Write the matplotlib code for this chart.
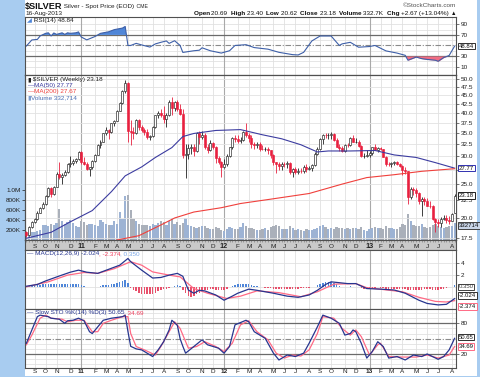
import numpy as np
import pandas as pd
import matplotlib
matplotlib.use("Agg")
import matplotlib.pyplot as plt
from matplotlib.patches import Rectangle
from matplotlib.ticker import FixedLocator, NullLocator

FONT = ['Liberation Sans Narrow', 'Liberation Sans', 'DejaVu Sans']
plt.rcParams['font.family'] = FONT

# ---------------- data ----------------
start_monday = '2010-08-16'
n_weeks = 157

opens = [18.2, 17.9, 18.9, 19.5, 19.9, 20.7, 21.4, 22.0, 23.1, 24.4,
         23.5, 24.6, 26.8, 26.2, 26.6, 27.0, 28.5, 28.7, 29.2, 29.5,
         30.9, 28.9, 28.6, 27.6, 27.9, 29.1, 30.3, 32.3, 33.0, 34.9,
         35.6, 35.3, 37.3, 37.9, 40.6, 42.7, 46.1, 48.6, 35.5, 35.2,
         35.0, 38.1, 36.4, 35.8, 35.3, 34.0, 34.3, 36.5, 39.3, 40.0,
         39.3, 38.3, 39.4, 42.9, 41.4, 43.0, 41.0, 39.8, 30.2, 30.5,
         31.8, 32.0, 31.0, 34.9, 34.0, 34.5, 31.9, 31.3, 32.8, 32.0,
         29.6, 29.0, 27.9, 28.6, 30.0, 31.9, 33.8, 33.6, 33.3, 33.5,
         35.3, 34.6, 33.9, 32.5, 32.3, 32.5, 31.6, 31.5, 31.6, 31.2,
         30.2, 28.9, 28.5, 28.2, 28.6, 28.5, 28.7, 27.0, 27.6, 27.0,
         27.3, 27.2, 28.0, 27.6, 27.8, 28.3, 30.5, 31.5, 33.6, 34.6,
         34.5, 34.6, 34.8, 33.5, 32.0, 31.7, 31.0, 32.4, 32.3, 33.9,
         33.0, 33.1, 32.2, 30.0, 30.1, 30.3, 30.6, 31.9, 31.3, 31.8,
         31.5, 29.9, 28.6, 28.5, 28.8, 28.9, 28.6, 28.2, 27.4, 27.2,
         23.0, 24.2, 24.0, 23.6, 22.3, 22.6, 22.3, 21.7, 21.6, 19.9,
         19.5, 19.4, 19.9, 20.0, 19.7, 19.6, 20.69]
highs = [18.4, 19.0, 19.6, 20.0, 20.9, 21.5, 22.2, 23.3, 24.6, 24.5,
         24.7, 27.0, 28.9, 26.9, 27.5, 28.8, 30.0, 29.5, 29.6, 31.0,
         31.0, 29.8, 28.9, 28.0, 29.3, 30.5, 32.5, 33.5, 35.0, 36.5,
         36.0, 37.5, 38.2, 40.8, 43.0, 46.5, 49.8, 49.0, 38.2, 36.5,
         38.5, 38.5, 37.0, 36.2, 36.0, 34.6, 36.6, 39.5, 40.5, 41.0,
         41.9, 40.0, 43.5, 44.3, 43.2, 43.5, 42.5, 41.0, 32.5, 32.5,
         32.5, 32.6, 35.2, 35.5, 35.5, 35.0, 32.5, 33.5, 33.0, 32.2,
         30.0, 29.2, 29.5, 30.5, 32.0, 34.0, 34.5, 34.5, 34.0, 35.5,
         37.5, 35.0, 34.6, 33.0, 33.0, 33.0, 32.4, 32.0, 31.9, 31.3,
         30.4, 29.0, 28.9, 28.9, 29.0, 29.2, 28.9, 27.8, 28.0, 27.8,
         27.8, 28.4, 28.6, 28.2, 28.5, 30.8, 31.9, 33.9, 34.8, 35.0,
         34.9, 35.3, 35.0, 33.8, 32.5, 32.2, 32.5, 32.8, 34.0, 34.5,
         33.8, 33.5, 32.4, 30.6, 31.2, 31.0, 32.0, 32.5, 32.0, 32.0,
         31.6, 30.0, 29.0, 29.0, 29.2, 29.1, 28.8, 28.3, 28.0, 27.3,
         24.5, 24.6, 24.3, 23.8, 23.0, 22.9, 22.8, 22.3, 21.8, 20.0,
         19.9, 20.1, 20.4, 20.4, 20.3, 20.7, 23.40]
lows = [17.6, 17.8, 18.7, 19.3, 19.8, 20.6, 21.2, 21.8, 23.0, 22.9,
        23.3, 24.5, 25.9, 25.1, 26.3, 26.9, 28.0, 28.3, 28.8, 29.3,
        28.5, 28.4, 27.4, 26.4, 27.6, 28.9, 30.2, 31.8, 33.0, 34.5,
        33.6, 35.0, 36.6, 37.8, 40.5, 42.5, 45.5, 33.0, 32.3, 33.7,
        34.8, 35.6, 35.3, 34.6, 33.6, 33.4, 34.0, 36.3, 38.6, 38.8,
        37.5, 36.5, 39.2, 39.5, 40.5, 40.5, 39.5, 29.6, 26.1, 29.5,
        30.5, 30.0, 30.8, 32.5, 33.7, 31.5, 30.7, 31.0, 31.6, 28.8,
        28.6, 26.2, 27.8, 28.2, 29.8, 31.5, 33.0, 32.8, 32.8, 33.2,
        34.0, 33.0, 31.8, 31.5, 31.8, 31.0, 31.2, 31.0, 30.5, 29.6,
        28.4, 26.9, 27.5, 27.4, 27.9, 27.8, 26.7, 26.2, 26.8, 26.8,
        26.9, 26.9, 27.0, 27.4, 27.3, 28.2, 30.2, 31.2, 32.6, 33.9,
        33.7, 33.6, 33.2, 31.9, 31.1, 30.8, 30.9, 31.9, 32.2, 32.9,
        32.8, 31.9, 29.8, 29.7, 29.8, 29.9, 30.3, 31.2, 30.9, 31.2,
        29.8, 28.2, 28.1, 28.0, 28.4, 28.4, 27.9, 26.6, 26.8, 22.0,
        22.6, 23.3, 23.0, 22.0, 20.3, 21.8, 21.6, 21.3, 19.7, 18.2,
        18.9, 18.9, 19.7, 19.3, 19.2, 19.6, 20.62]
closes = [17.9, 18.9, 19.5, 19.9, 20.7, 21.4, 22.0, 23.1, 24.4, 23.5,
          24.6, 26.8, 26.2, 26.6, 27.0, 28.5, 28.7, 29.2, 29.5, 30.9,
          28.9, 28.6, 27.6, 27.9, 29.1, 30.3, 32.3, 33.0, 34.9, 35.6,
          35.3, 37.3, 37.9, 40.6, 42.7, 46.1, 48.6, 35.5, 35.2, 35.0,
          38.1, 36.4, 35.8, 35.3, 34.0, 34.3, 36.5, 39.3, 40.0, 39.3,
          38.3, 39.4, 42.9, 41.4, 43.0, 41.0, 39.8, 30.2, 30.5, 31.8,
          32.0, 31.0, 34.9, 34.0, 34.5, 31.9, 31.3, 32.8, 32.0, 29.6,
          29.0, 27.9, 28.6, 30.0, 31.9, 33.8, 33.6, 33.3, 33.5, 35.3,
          34.6, 33.9, 32.5, 32.3, 32.5, 31.6, 31.5, 31.6, 31.2, 30.2,
          28.9, 28.5, 28.2, 28.6, 28.5, 28.7, 27.0, 27.6, 27.0, 27.3,
          27.2, 28.0, 27.6, 27.8, 28.3, 30.5, 31.5, 33.6, 34.6, 34.5,
          34.6, 34.8, 33.5, 32.0, 31.7, 31.0, 32.4, 32.3, 33.9, 33.0,
          33.1, 32.2, 30.0, 30.1, 30.3, 30.6, 31.9, 31.3, 31.8, 31.5,
          29.9, 28.6, 28.5, 28.8, 28.9, 28.6, 28.2, 27.4, 27.2, 23.0,
          24.2, 24.0, 23.6, 22.3, 22.6, 22.3, 21.7, 21.6, 19.9, 19.5,
          19.4, 19.9, 20.0, 19.7, 19.6, 20.5, 23.18]
volume_k = [130, 150, 170, 160, 190, 200, 300, 310, 290, 330,
            300, 350, 630, 380, 330, 360, 400, 340, 280, 260,
            380, 360, 300, 320, 330, 310, 290, 400, 360, 330,
            300, 310, 380, 330, 570, 430, 880, 900, 600, 420,
            380, 330, 300, 310, 300, 280, 330, 300, 350, 380,
            360, 300, 380, 440, 330, 360, 300, 340, 450, 300,
            280, 260, 250, 270, 280, 290, 240, 220, 230, 270,
            240, 200, 180, 220, 260, 250, 230, 220, 260, 350,
            280, 250, 240, 220, 210, 200, 230, 250, 200, 260,
            290, 300, 280, 220, 230, 230, 290, 240, 200, 220,
            210, 190, 220, 200, 200, 230, 250, 280, 300, 260,
            230, 240, 230, 260, 250, 240, 230, 240, 230, 250,
            240, 230, 260, 200, 180, 220, 240, 260, 250, 240,
            230, 280, 250, 240, 220, 230, 260, 330, 300, 530,
            380, 300, 290, 280, 320, 260, 250, 270, 300, 330,
            280, 260, 250, 260, 280, 290, 333]

ma50_wk = [0, 9, 16, 24, 31, 36, 42, 47, 53, 57, 61, 69, 78, 86, 93, 100,
           106, 110, 118, 127, 134, 142, 149, 156]
ma50_val = [17.5, 18.2, 19.5, 21.0, 23.8, 26.4, 28.0, 29.8, 31.8, 34.2, 34.9,
            35.6, 35.8, 34.6, 33.7, 32.4, 30.9, 31.1, 31.1, 31.2, 30.3, 29.8,
            28.8, 27.77]
ma200_wk = [30, 33, 41, 49, 54, 61, 71, 78, 90, 103, 115, 124, 134, 144, 156]
ma200_val = [16.9, 17.3, 17.8, 19.1, 20.0, 20.8, 21.4, 22.0, 22.7, 23.5, 25.0,
             26.1, 26.6, 27.2, 27.67]

rsi_wk = [0, 2, 4, 5, 7, 8, 9, 10, 11, 13, 14, 15, 16, 18, 19, 20, 22, 25, 27, 30,
          32, 35, 36, 37, 38, 40, 42, 45, 47, 49, 51, 52, 54, 56, 57, 61, 63, 64,
          67, 71, 74, 76, 80, 83, 88, 92, 97, 99, 101, 104, 107, 111, 114, 115,
          118, 121, 125, 127, 131, 135, 138, 139, 142, 144, 146, 149, 150, 152,
          154, 156]
rsi_val = [49, 60.5, 61.5, 68, 73, 74, 68, 73.7, 71, 74, 71, 74, 73, 74, 75.7, 66,
           60.6, 67, 73, 76, 80, 83, 86, 50, 50, 54, 51, 47, 53, 56, 58.6, 54, 59,
           50, 36.8, 40, 41, 45.6, 40, 35.6, 40, 50, 51.5, 46, 43, 37, 32.6, 32,
           37, 58.6, 68, 68, 50, 53, 56, 46.7, 48, 50, 39.7, 35.6, 31.3, 22, 28,
           25, 23.5, 22, 20, 27, 31, 48.84]

macd_wk = [0, 4, 7, 12, 16, 19, 22, 26, 30, 34, 37, 38, 42, 46, 49, 52, 55, 57,
           59, 61, 63, 65, 69, 72, 75, 77, 81, 84, 87, 90, 95, 99, 103, 106, 109,
           111, 114, 117, 120, 124, 129, 134, 138, 143, 146, 150, 153, 156]
macd_val = [0.1, 0.4, 1.0, 1.85, 2.5, 2.85, 2.5, 2.3, 3.0, 3.7, 4.85, 4.3, 2.85,
            1.5, 1.6, 2.0, 2.3, 1.8, -0.55, -1.1, -0.6, -0.7, -1.4, -2.3, -1.6,
            -1.1, -0.4, -0.6, -0.85, -1.1, -1.6, -1.8, -1.4, -0.6, 0.4, 0.85, 0.7,
            0.55, 0.55, -0.3, -0.4, -0.55, -1.1, -2.3, -2.85, -3.1, -3.0, -2.024]
signal_wk = [0, 8, 15, 21, 26, 32, 38, 42, 46, 52, 56, 61, 66, 73, 78, 84, 92,
             100, 106, 112, 120, 124, 137, 143, 149, 153, 156]
signal_val = [0.0, 0.85, 2.0, 2.45, 2.3, 3.1, 4.3, 3.7, 2.55, 2.0, 1.7, -0.3,
              -1.1, -2.0, -1.6, -0.7, -1.0, -1.7, -0.85, 0.45, 0.55, -0.15, -0.85,
              -1.8, -2.5, -2.6, -2.374]
macd_hist = [0.1, 0.15, 0.2, 0.25, 0.3, 0.35, 0.4, 0.45, 0.45, 0.45,
             0.5, 0.55, 0.55, 0.5, 0.5, 0.5, 0.5, 0.45, 0.45, 0.4,
             0.3, 0.15, 0.0, -0.1, -0.1, -0.05, 0.05, 0.15, 0.25, 0.3,
             0.35, 0.45, 0.5, 0.6, 0.75, 0.95, 1.25, 0.6, -0.2, -0.6,
             -0.8, -1.0, -1.15, -1.25, -1.3, -1.3, -1.2, -1.0, -0.8, -0.6,
             -0.45, -0.3, -0.15, 0.05, 0.15, 0.25, 0.2, -0.5, -1.1, -1.5,
             -1.7, -1.6, -1.3, -1.0, -0.75, -0.6, -0.55, -0.45, -0.45, -0.5,
             -0.55, -0.6, -0.5, -0.3, -0.1, 0.1, 0.3, 0.45, 0.5, 0.55,
             0.5, 0.45, 0.35, 0.2, 0.1, 0.0, -0.1, -0.15, -0.2, -0.25,
             -0.35, -0.4, -0.35, -0.3, -0.3, -0.3, -0.35, -0.35, -0.3, -0.3,
             -0.25, -0.2, -0.2, -0.15, -0.1, 0.05, 0.25, 0.5, 0.7, 0.8,
             0.85, 0.8, 0.6, 0.4, 0.2, 0.05, -0.05, 0.0, 0.1, 0.05,
             0.0, -0.1, -0.25, -0.3, -0.3, -0.25, -0.2, -0.15, -0.1, -0.15,
             -0.25, -0.35, -0.4, -0.4, -0.35, -0.3, -0.3, -0.35, -0.4, -0.55,
             -0.55, -0.5, -0.5, -0.55, -0.5, -0.45, -0.45, -0.45, -0.5, -0.55,
             -0.55, -0.45, -0.35, -0.25, -0.1, 0.05, 0.35]

stok_wk = [0, 2, 4, 5, 8, 9, 12, 14, 15, 17, 19, 21, 23, 24, 26, 28, 31, 35, 36,
           37, 38, 40, 42, 44, 46, 48, 50, 52, 53, 55, 56, 57, 58, 61, 64, 66, 70,
           72, 74, 76, 80, 81, 83, 87, 90, 92, 95, 98, 101, 103, 106, 108, 111,
           114, 116, 118, 119, 120, 122, 124, 126, 128, 130, 132, 135, 138, 141,
           144, 146, 150, 152, 154, 156]
stok_val = [41, 67, 93, 96, 93, 90, 88, 80, 85, 86, 90, 85, 63.6, 60, 73, 86, 90,
            93, 96, 64, 35, 30, 28, 21.6, 15, 28, 44, 67, 86, 76, 50, 35, 21.6,
            34.6, 47.7, 38, 31.4, 21.6, 34.6, 77, 86, 83, 63.6, 50.6, 21.6, 8.3,
            18, 15, 21.6, 41, 73, 96, 90, 80, 57, 60, 67, 63.6, 41, 12, 24.8, 44,
            34.6, 12, 15, 8.3, 18, 15, 20, 9.6, 15, 28, 50.65]
stod_wk = [0, 2, 5, 7, 9, 13, 15, 18, 21, 24, 26, 28, 31, 35, 37, 38, 40, 43, 47,
           49, 52, 54, 56, 59, 62, 65, 69, 72, 75, 78, 81, 84, 88, 91, 94, 97,
           100, 103, 106, 108, 112, 115, 118, 120, 122, 125, 128, 129, 132, 137,
           142, 146, 150, 154, 156]
stod_val = [38, 57, 90, 96, 90, 88, 83, 86, 86, 63.6, 63.6, 80, 86, 93, 93, 60,
            34.6, 28, 18, 34.6, 63.6, 83, 70, 31.4, 34.6, 44, 34.6, 24.8, 41, 77,
            85, 63.6, 47.7, 21.6, 12, 18, 16, 28, 60, 93, 90, 70, 57, 67, 54, 18,
            38, 41, 15, 14, 14, 18, 12, 18, 34.69]

price_ticks = [17.5, 20.0, 22.5, 25.0, 27.5, 30.0, 32.5, 35.0, 37.5, 40.0,
               42.5, 45.0, 47.5, 50.0]
price_tick_labels = ['17.5', '20.0', '22.5', '25.0', '', '30.0', '32.5', '35.0',
                     '37.5', '40.0', '42.5', '45.0', '47.5', '50.0']
vol_ticks = [200e3, 400e3, 600e3, 800e3, 1.0e6]
vol_tick_labels = ['200K', '400K', '600K', '800K', '1.0M']

# ---------------- layout ----------------
W, H = 480, 377
L, R = 25, 456
dates = pd.date_range(start_monday, periods=n_weeks, freq='7D')
x = np.arange(n_weeks)
O, Hh, Lw, C = map(np.array, (opens, highs, lows, closes))

fig = plt.figure(figsize=(W / 100, H / 100), dpi=100)
fig.patch.set_facecolor('#a8ccf0')
fig.add_artist(Rectangle((L / W, 1 - 376 / H), (477 - L) / W, 376 / H,
                         transform=fig.transFigure, fc='white', ec='none',
                         zorder=-10))


def mk(top, bot, **kw):
    return fig.add_axes([L / W, 1 - bot / H, (R - L) / W, (bot - top) / H], **kw)


month_idx = [i for i in range(1, n_weeks) if dates[i].month != dates[i - 1].month]
month_lab = [('%02d' % (dates[i].year % 100)) if dates[i].month == 1
             else 'JFMAMJJASOND'[dates[i].month - 1] for i in month_idx]

SP = '#505050'
NAVY = '#27358f'
RED = '#e8203f'
PINK = '#ff6a85'
TS = 4.6
BS = 4.3


def style(ax):
    ax.set_xlim(-0.5, n_weeks - 0.5)
    for s in ax.spines.values():
        s.set_color(SP)
        s.set_linewidth(0.8)
    for i in month_idx:
        if dates[i].month == 1:
            ax.axvline(i, color='#a9a9a9', lw=0.8, zorder=0.4)
        else:
            ax.axvline(i, color='#e0e0e0', lw=0.6, zorder=0.4)
    ax.tick_params(axis='x', which='both', length=0, labelbottom=False)
    ax.yaxis.tick_right()
    ax.tick_params(axis='y', which='both', length=2, width=0.5, color='#404040',
                   labelsize=TS, pad=1.5, labelcolor='#202020')
    ax.yaxis.set_minor_locator(NullLocator())


def hlines(ax, light, dark=(), dash=()):
    for v in light:
        ax.axhline(v, color='#e2e2e2', lw=0.6, zorder=0.3)
    for v in dark:
        ax.axhline(v, color='#6a6a6a', lw=0.9, zorder=0.5)
    for v in dash:
        ax.axhline(v, color='#8a8a8a', lw=0.8, ls=(0, (5, 1.5, 1, 1.5)), zorder=0.5)


def vbox(ax, y, s, ec, tc='#101010', fc='white', dy=0):
    ax.annotate(s, xy=(1, y), xycoords=ax.get_yaxis_transform(),
                xytext=(2.0, dy), textcoords='offset points', ha='left',
                va='center', fontsize=BS, color=tc, zorder=10,
                annotation_clip=False,
                bbox=dict(boxstyle='square,pad=0.1', fc=fc, ec=ec, lw=0.7))


def chain(ax, xy, parts, coords=None, size=TS):
    prev = None
    for s, col, wt in parts:
        if prev is None:
            prev = ax.annotate(s, xy=xy, xycoords=coords or ax.transAxes,
                               ha='left', va='top', fontsize=size, color=col,
                               fontweight=wt, zorder=12, annotation_clip=False)
        else:
            prev = ax.annotate(s, xy=(1, 0), xycoords=prev, ha='left',
                               va='bottom', fontsize=size, color=col,
                               fontweight=wt, zorder=12, annotation_clip=False)
    return prev


# ---------------- RSI panel ----------------
ax_rsi = mk(17, 75)
style(ax_rsi)
ax_rsi.set_ylim(-6, 104)
hlines(ax_rsi, [10, 20, 40, 60, 80, 90], [70, 30], [50])
rx = np.array(rsi_wk)
ry = np.array(rsi_val)
ax_rsi.fill_between(rx, ry, 70, where=ry >= 70, interpolate=True,
                    color='#4f86d8', lw=0, zorder=1)
ax_rsi.fill_between(rx, ry, 30, where=ry <= 30, interpolate=True,
                    color='#f26d84', lw=0, zorder=1)
ax_rsi.plot(rx, ry, color='#3d5fa8', lw=0.8, zorder=2)
ax_rsi.yaxis.set_major_locator(FixedLocator([10, 30, 70, 90]))
ax_rsi.set_yticklabels(['10', '30', '70', '90'])
vbox(ax_rsi, rsi_val[-1], '%.2f' % rsi_val[-1], '#303030')
chain(ax_rsi, (0.004, 0.985), [('\u25e2', '#4f86d8', 'normal'),
                              (' RSI(14) 48.84', '#202020', 'normal')])

# ---------------- price panel ----------------
ax_vol = mk(75, 240)
style(ax_vol)
ax_vol.set_ylim(0, 3.3e6)
up = np.r_[True, C[1:] >= C[:-1]]
vcol = np.where(up, '#9db3d4', '#aab0ba')
ax_vol.bar(x, np.array(volume_k) * 1e3, width=0.82, color=vcol, lw=0, zorder=1)
ax_vol.yaxis.tick_left()
ax_vol.yaxis.set_major_locator(FixedLocator(vol_ticks))
ax_vol.set_yticklabels(vol_tick_labels)
ax_vol.tick_params(axis='y', length=2, labelsize=TS, pad=1, colors='#202020')

ax_p = mk(75, 240, facecolor='none')
ax_p.set_yscale('log')
ax_p.set_ylim(17.3, 51.3)
ax_p.set_xlim(-0.5, n_weeks - 0.5)
for s in ax_p.spines.values():
    s.set_color(SP)
    s.set_linewidth(0.8)
ax_p.tick_params(axis='x', which='both', length=0, labelbottom=False)
ax_p.yaxis.tick_right()
ax_p.yaxis.set_major_locator(FixedLocator(price_ticks))
ax_p.yaxis.set_minor_locator(NullLocator())
ax_p.set_yticklabels(price_tick_labels)
ax_p.tick_params(axis='y', which='both', length=2, width=0.5, color='#404040',
                 labelsize=TS, pad=1.5, labelcolor='#202020')
for v in price_ticks:
    ax_p.axhline(v, color='#e2e2e2', lw=0.6, zorder=0.3)

prevC = np.r_[C[0] + 0.3, C[:-1]]
for i in range(n_weeks):
    col = RED if C[i] < prevC[i] else '#202020'
    ax_p.vlines(i, Lw[i], Hh[i], color=col, lw=0.6, zorder=3)
    filled = C[i] < O[i]
    lo, hi = min(O[i], C[i]), max(O[i], C[i])
    if hi - lo < 0.05:
        hi = lo + 0.05
    ax_p.bar(i, hi - lo, bottom=lo, width=0.72,
             facecolor=col if filled else 'white', edgecolor=col, lw=0.45,
             zorder=4)

ax_p.plot(ma50_wk, ma50_val, color='#3c3ca0', lw=0.8, zorder=5)
ax_p.plot(ma200_wk, ma200_val, color='#f0403c', lw=0.8, zorder=5)

vbox(ax_p, ma50_val[-1], '27.77', '#3030b0')
vbox(ax_p, closes[-1], '23.18', '#202020')
vbox(ax_vol, volume_k[-1] * 1e3, '332714', '#404040', fc='#c8d4e6', dy=-1.5)

lx, ly = 0.006, 0.985
chain(ax_p, (lx, ly), [('\u25ae', '#202020', 'normal'),
                       (' $SILVER (Weekly) 23.18', '#202020', 'normal')])
chain(ax_p, (lx, ly - 0.036), [('\u2014', '#3c3ca0', 'normal'),
                               ('MA(50) 27.77', '#3c3ca0', 'normal')])
chain(ax_p, (lx, ly - 0.072), [('\u2014', '#f0403c', 'normal'),
                               ('MA(200) 27.67', '#f0403c', 'normal')])
chain(ax_p, (lx, ly - 0.108), [('\u25ae', '#7a9cd0', 'normal'),
                               ('Volume 332,714', '#4a6fb5', 'normal')])

# ---------------- date band ----------------
ax_band = mk(240, 250, facecolor='#c9c9c9')
ax_band.set_xlim(-0.5, n_weeks - 0.5)
ax_band.set_ylim(0, 1)
for s in ax_band.spines.values():
    s.set_color(SP)
    s.set_linewidth(0.8)
ax_band.set_yticks([])
ax_band.set_xticks([])
ax_band.vlines(x, 0.78, 1.0, color='#707070', lw=0.4)
for i, lab in zip(month_idx, month_lab):
    bold = dates[i].month == 1
    ax_band.text(i, 0.38, lab, ha='center', va='center',
                 fontsize=TS + (0.6 if bold else 0),
                 fontweight='bold' if bold else 'normal', color='#202020')

# ---------------- MACD panel ----------------
ax_m = mk(250, 309)
style(ax_m)
ax_m.set_ylim(-3.8, 6.3)
hlines(ax_m, [-2, 0, 2, 4])
hist = np.array(macd_hist)
ax_m.bar(x, hist, width=0.55, color=np.where(hist >= 0, '#4f86d8', '#e8506b'),
         lw=0, zorder=1)
ax_m.plot(signal_wk, signal_val, color=PINK, lw=0.9, zorder=2)
ax_m.plot(macd_wk, macd_val, color=NAVY, lw=0.9, zorder=3)
ax_m.yaxis.set_major_locator(FixedLocator([2, 4]))
ax_m.set_yticklabels(['2', '4'])
vbox(ax_m, 0.0, '0.350', '#404040', tc='#404040')
vbox(ax_m, -2.374, '-2.374', PINK, dy=-4.2)
vbox(ax_m, -2.024, '-2.024', '#303030', dy=2.2)
chain(ax_m, (0.004, 0.975), [('\u2014 MACD(12,26,9) -2.024', NAVY, 'normal'),
                            (', -2.374', '#f0405e', 'normal'),
                            (', 0.350', '#7aa6e6', 'normal')])

# ---------------- STO panel ----------------
ax_s = mk(309, 368)
style(ax_s)
ax_s.set_ylim(-7.4, 108)
hlines(ax_s, [0, 10, 30, 40, 60, 70, 90, 100], [80, 20], [50])
ax_s.plot(stod_wk, stod_val, color=PINK, lw=0.9, zorder=2)
ax_s.plot(stok_wk, stok_val, color=NAVY, lw=0.9, zorder=3)
ax_s.yaxis.set_major_locator(FixedLocator([20, 80]))
ax_s.set_yticklabels(['20', '80'])
vbox(ax_s, 50.65, '50.65', '#303030', dy=0.8)
vbox(ax_s, 34.69, '34.69', PINK, dy=0.0)
chain(ax_s, (0.004, 0.975), [('\u2014 Slow STO %K(14) %D(3) 50.65', NAVY, 'normal'),
                            (', 34.69', '#f0405e', 'normal')])
ax_s.set_xticks(month_idx)
ax_s.set_xticklabels(month_lab)
ax_s.tick_params(axis='x', labelbottom=True, labelsize=TS, pad=1.0, length=0,
                 labelcolor='#202020')
for lab, i in zip(ax_s.get_xticklabels(), month_idx):
    if dates[i].month == 1:
        lab.set_fontweight('bold')

# ---------------- header ----------------
tt = fig.text(L / W, 1 - 6.5 / H, '$SILVER', fontsize=6.6, fontweight='bold',
              va='center', ha='left', color='#101010')
t2 = fig.add_artist(matplotlib.text.Annotation(
    ' Silver - Spot Price (EOD)', xy=(1, 0.5), xycoords=tt, ha='left',
    va='center', fontsize=4.6, color='#202020'))
fig.add_artist(matplotlib.text.Annotation(
    ' CME', xy=(1, 0.5), xycoords=t2, ha='left', va='center', fontsize=3.8,
    color='#202020'))
fig.text(L / W, 1 - 13.5 / H, '16-Aug-2013', fontsize=4.6, va='center',
         ha='left', color='#202020')
fig.text(456 / W, 1 - 5.5 / H, '\u00a9StockCharts.com', fontsize=4.6,
         va='center', ha='right', color='#505050')

hdr = [('Open ', 'bold'), ('20.69  ', 'normal'), ('High ', 'bold'),
       ('23.40  ', 'normal'), ('Low ', 'bold'), ('20.62  ', 'normal'),
       ('Close ', 'bold'), ('23.18  ', 'normal'), ('Volume ', 'bold'),
       ('332.7K  ', 'normal'), ('Chg ', 'bold'),
       ('+2.67 (+13.04%) ', 'normal'), ('\u25b2', 'normal')]
prev = fig.text(456 / W, 1 - 13.5 / H, hdr[-1][0], fontsize=4.0,
                fontweight=hdr[-1][1], va='center', ha='right', color='#101010')
for s, wt in reversed(hdr[:-1]):
    prev = fig.add_artist(matplotlib.text.Annotation(
        s, xy=(0, 0.5), xycoords=prev, ha='right', va='center', fontsize=4.6,
        fontweight=wt, color='#101010'))

fig.savefig('out.png', dpi=100, facecolor=fig.get_facecolor())
